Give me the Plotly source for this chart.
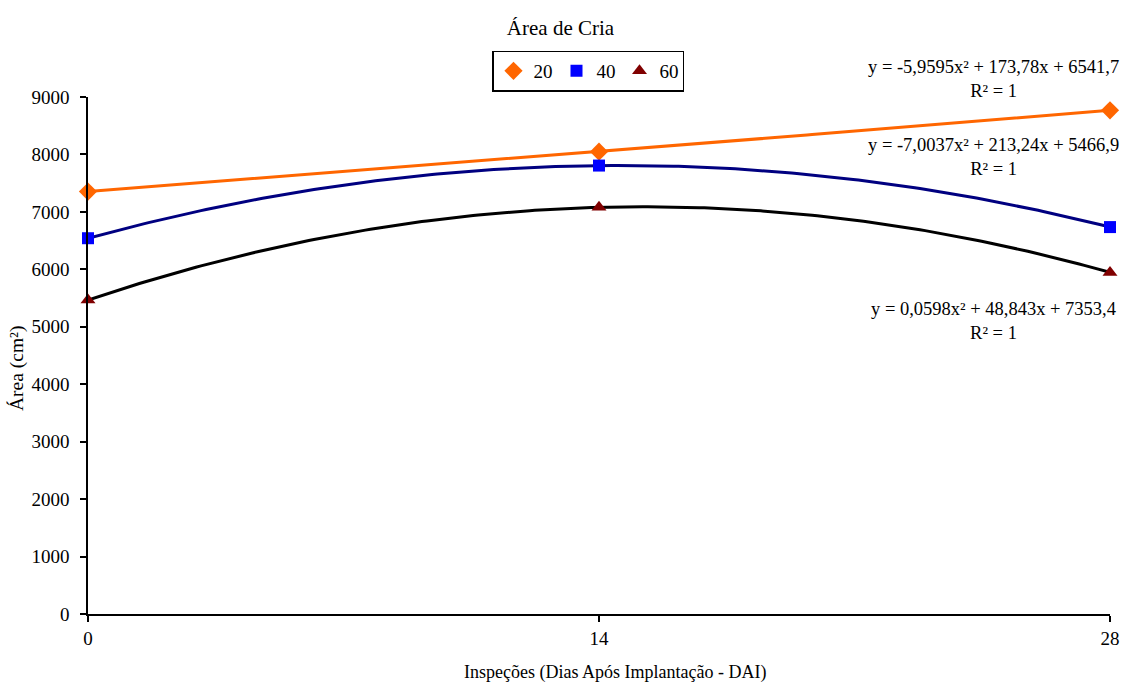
import numpy as np
import plotly.graph_objects as go

dias = [0, 14, 28]
serie_nomes = ["20", "40", "60"]
area_20 = [7353.4, 8048.9, 8767.9]
area_40 = [6541.7, 7806.5, 6735.3]
area_60 = [5466.9, 7079.6, 5946.7]
y_ticks = [0, 1000, 2000, 3000, 4000, 5000, 6000, 7000, 8000, 9000]
equacoes = [
    "y = -5,9595x² + 173,78x + 6541,7<br>R² = 1",
    "y = -7,0037x² + 213,24x + 5466,9<br>R² = 1",
    "y = 0,0598x² + 48,843x + 7353,4<br>R² = 1",
]

FONT = "Liberation Serif, Times New Roman, serif"
series = [
    (serie_nomes[0], area_20, "#FF6600", "#FF6600", "diamond", 14),
    (serie_nomes[1], area_40, "#0000FF", "#000080", "square", 12),
    (serie_nomes[2], area_60, "#800000", "#000000", "triangle-up", 13),
]

L, R, T, B = 88, 1110, 97, 614

fig = go.Figure()
xs = np.linspace(0, 28, 200)
for name, vals, mcol, lcol, sym, sz in series:
    coef = np.polyfit(dias, vals, 2)
    fig.add_trace(go.Scatter(x=xs, y=np.polyval(coef, xs), mode="lines",
                             line=dict(color=lcol, width=3), showlegend=False,
                             hoverinfo="skip", cliponaxis=False))
for name, vals, mcol, lcol, sym, sz in series:
    fig.add_trace(go.Scatter(x=dias, y=vals, mode="markers", name=name,
                             marker=dict(color=mcol, symbol=sym, size=sz),
                             cliponaxis=False))

fig.update_layout(
    width=1121, height=683,
    paper_bgcolor="white", plot_bgcolor="white",
    margin=dict(l=L, r=1121 - R, t=T, b=683 - B, autoexpand=False),
    font=dict(family=FONT, size=18, color="black"),
    title=dict(text="Área de Cria", x=0.5, xanchor="center", y=0.96, yanchor="middle",
               font=dict(family=FONT, size=21, color="black")),
    legend=dict(orientation="h", x=(588 - L) / (R - L), xanchor="center",
                y=(B - 71) / (B - T), yanchor="middle",
                bordercolor="black", borderwidth=1.5, font=dict(family=FONT, size=19),
                entrywidth=18, tracegroupgap=0),
    xaxis=dict(range=[0, 28], tickvals=dias, ticktext=[str(d) for d in dias],
               showgrid=False, zeroline=False, showline=True, linecolor="black", linewidth=1.5,
               ticks="outside", ticklen=6, tickcolor="black", tickwidth=1.5, automargin=False,
               tickfont=dict(family=FONT, size=19)),
    yaxis=dict(range=[0, 9000], tickvals=y_ticks, showgrid=False, zeroline=False,
               showline=True, linecolor="black", linewidth=1.5, automargin=False,
               ticks="outside", ticklen=6, tickcolor="black", tickwidth=1.5,
               ticklabelstandoff=7,
               tickfont=dict(family=FONT, size=19)),
)

def px_x(p):
    return (p - L) / (R - L)

def px_y(p):
    return (B - p) / (B - T)

fig.add_annotation(text="Inspeções (Dias Após Implantação - DAI)", xref="paper", yref="paper",
                   x=px_x(615), y=px_y(672), xanchor="center", yanchor="middle",
                   showarrow=False, font=dict(family=FONT, size=18, color="black"))
fig.add_annotation(text="Área (cm²)", xref="paper", yref="paper", textangle=-90,
                   x=px_x(17), y=px_y(369), xanchor="center", yanchor="middle",
                   showarrow=False, font=dict(family=FONT, size=19.5, color="black"))

ann_pos = [(993, 79), (993, 157), (993, 321)]
for txt, (px, py) in zip(equacoes, ann_pos):
    fig.add_annotation(text=txt, xref="paper", yref="paper",
                       x=px_x(px), y=px_y(py),
                       xanchor="center", yanchor="middle", showarrow=False,
                       align="center", font=dict(family=FONT, size=18.5, color="black"))

fig.write_html("out.html")
